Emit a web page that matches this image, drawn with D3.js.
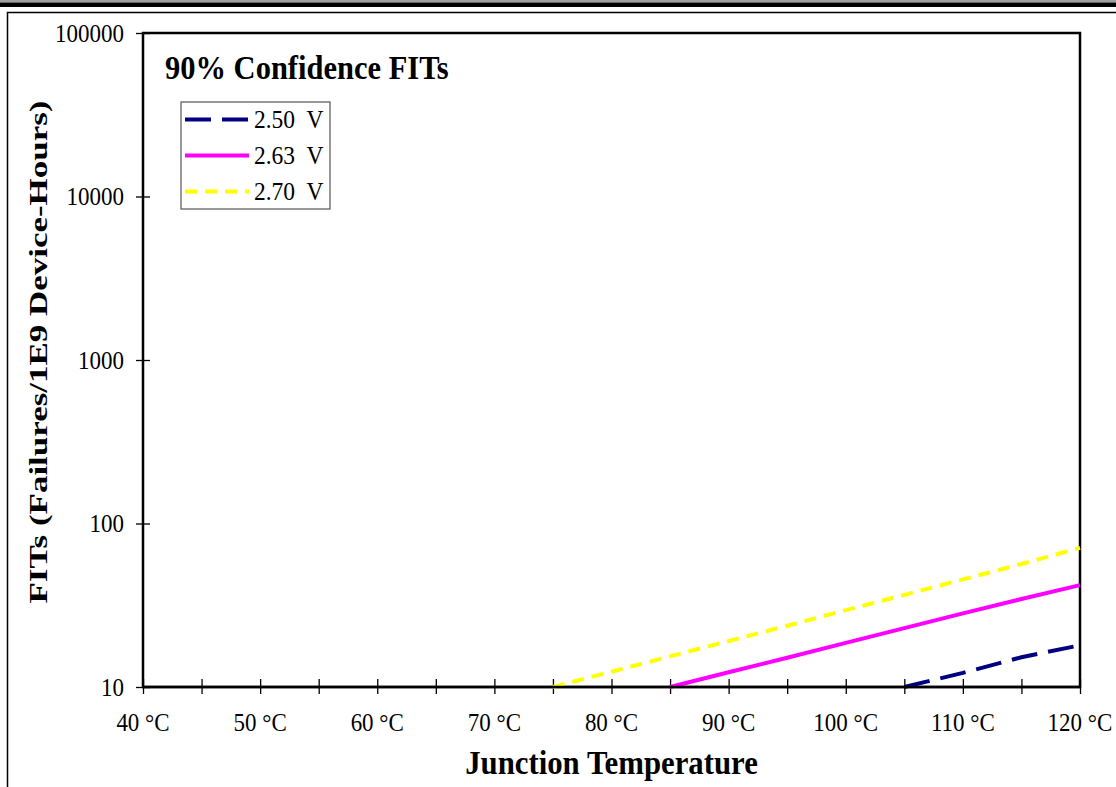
<!DOCTYPE html>
<html>
<head>
<meta charset="utf-8">
<script src="https://cdn.jsdelivr.net/npm/d3@7"></script>
<style>
  body { margin: 0; background: #fff; }
  svg text { font-family: "Liberation Serif", "Times New Roman", serif; fill: #000; }
</style>
</head>
<body>
<div id="chart"></div>
<script>
// ---- data ----
var temps = [40, 45, 50, 55, 60, 65, 70, 75, 80, 85, 90, 95, 100, 105, 110, 115, 120];
var xLabelTemps = [40, 50, 60, 70, 80, 90, 100, 110, 120];
var yTicks = [10, 100, 1000, 10000, 100000];
var seriesNames = ["2.50  V", "2.63  V", "2.70  V"];

var temps250 = [105, 110, 115, 120];
var fits250 = [10, 12.2, 15.2, 18];

var temps263 = [85, 90, 95, 100, 105, 110, 115, 120];
var fits263 = [10, 12.3, 15.1, 18.6, 22.9, 28.2, 34.5, 42];

var temps270 = [75, 80, 85, 90, 95, 100, 105, 110, 115, 120];
var fits270 = [10, 12.4, 15.4, 19.1, 23.7, 29.5, 36.6, 45.5, 56.5, 71];

var W = 1116, H = 787;
var margin = { top: 33, right: 36, bottom: 100, left: 143 };
var width = 1080 - margin.left;
var height = 687 - margin.top;

// text in the reference is a little taller than wide
var stretch = 1.11;

var svg = d3.select("#chart").append("svg")
  .attr("width", W)
  .attr("height", H);

// page header bar and outer frame
svg.append("rect").attr("x", 0).attr("y", 0).attr("width", W).attr("height", 2.5).attr("fill", "#a0a0a0");
svg.append("rect").attr("x", 0).attr("y", 2.5).attr("width", W).attr("height", 4.5).attr("fill", "#000");
svg.append("path")
  .attr("d", "M7.5," + H + " L7.5,12.5 L" + W + ",12.5")
  .attr("fill", "none").attr("stroke", "#000").attr("stroke-width", 1.5);

var g = svg.append("g")
  .attr("transform", "translate(" + margin.left + "," + margin.top + ")");

var x = d3.scaleLinear().domain([40, 120]).range([0, width]);
var y = d3.scaleLog().domain([10, 100000]).range([height, 0]);

// x ticks (crossing the axis)
var xAxis = d3.axisBottom(x)
  .tickValues(temps)
  .tickSizeInner(7)
  .tickSizeOuter(0)
  .tickFormat("");
var xa = g.append("g")
  .attr("transform", "translate(0," + height + ")")
  .call(xAxis);
xa.select(".domain").remove();
xa.selectAll(".tick line").attr("y1", -8).attr("stroke", "#000").attr("stroke-width", 1.3);

g.append("g").selectAll("text")
  .data(xLabelTemps)
  .join("text")
  .attr("transform", function (d) {
    return "translate(" + x(d) + "," + (height + 44) + ") scale(1," + stretch + ")";
  })
  .attr("text-anchor", "middle")
  .style("font-size", "23px")
  .text(function (d) { return d + " \u00B0C"; });

// y ticks
var yAxis = d3.axisLeft(y)
  .tickValues(yTicks)
  .tickSizeInner(7)
  .tickSizeOuter(0)
  .tickFormat(d3.format("d"));
var ya = g.append("g").call(yAxis);
ya.select(".domain").remove();
ya.selectAll(".tick line").attr("x2", -7).attr("x1", 7).attr("stroke", "#000").attr("stroke-width", 1.3);
ya.selectAll(".tick text").remove();
ya.selectAll(".tick").append("text")
  .attr("transform", "translate(-19,8) scale(1," + stretch + ")")
  .attr("text-anchor", "end")
  .style("font-size", "23px")
  .style("font-family", "'Liberation Serif', 'Times New Roman', serif")
  .style("fill", "#000")
  .text(function (d) { return d3.format("d")(d); });

// plot frame
g.append("rect")
  .attr("width", width)
  .attr("height", height)
  .attr("fill", "none")
  .attr("stroke", "#000")
  .attr("stroke-width", 2.5);

// series
var series = [
  { name: seriesNames[0], t: temps250, v: fits250, color: "#000080", dash: "26,11" },
  { name: seriesNames[1], t: temps263, v: fits263, color: "#ff00ff", dash: null },
  { name: seriesNames[2], t: temps270, v: fits270, color: "#ffff00", dash: "12,8" }
];

var line = d3.line()
  .x(function (d) { return x(d[0]); })
  .y(function (d) { return y(d[1]); });

series.forEach(function (s) {
  var pts = s.t.map(function (t, i) { return [t, s.v[i]]; });
  g.append("path")
    .datum(pts)
    .attr("fill", "none")
    .attr("stroke", s.color)
    .attr("stroke-width", 4)
    .attr("stroke-dasharray", s.dash)
    .attr("d", line);
});

// redraw bottom axis line over series starts
g.append("line")
  .attr("x1", 0).attr("x2", width)
  .attr("y1", height).attr("y2", height)
  .attr("stroke", "#000").attr("stroke-width", 2.5);

// chart title inside plot
svg.append("text")
  .attr("transform", "translate(165,79) scale(1," + stretch + ")")
  .style("font-size", "30.5px")
  .style("font-weight", "bold")
  .text("90% Confidence FITs");

// legend
var legend = svg.append("g").attr("transform", "translate(181,102)");
legend.append("rect")
  .attr("width", 149)
  .attr("height", 107)
  .attr("fill", "#fff")
  .attr("stroke", "#555")
  .attr("stroke-width", 1.2);
series.forEach(function (s, i) {
  var ly = 17.5 + i * 36;
  legend.append("line")
    .attr("x1", 4).attr("x2", 68)
    .attr("y1", ly).attr("y2", ly)
    .attr("stroke", s.color)
    .attr("stroke-width", 4)
    .attr("stroke-dasharray", s.dash);
  legend.append("text")
    .attr("transform", "translate(73," + (ly + 8.5) + ") scale(1," + stretch + ")")
    .style("font-size", "23.5px")
    .style("white-space", "pre")
    .text(s.name);
});

// axis titles
svg.append("text")
  .attr("transform", "translate(" + (margin.left + width / 2) + ",774) scale(1,1.07)")
  .attr("text-anchor", "middle")
  .style("font-size", "30.8px")
  .style("font-weight", "bold")
  .text("Junction Temperature");

svg.append("text")
  .attr("transform", "translate(47,352) rotate(-90)")
  .attr("text-anchor", "middle")
  .attr("textLength", 503)
  .attr("lengthAdjust", "spacingAndGlyphs")
  .style("font-size", "26px")
  .style("font-weight", "bold")
  .text("FITs (Failures/1E9 Device-Hours)");
</script>
</body>
</html>
